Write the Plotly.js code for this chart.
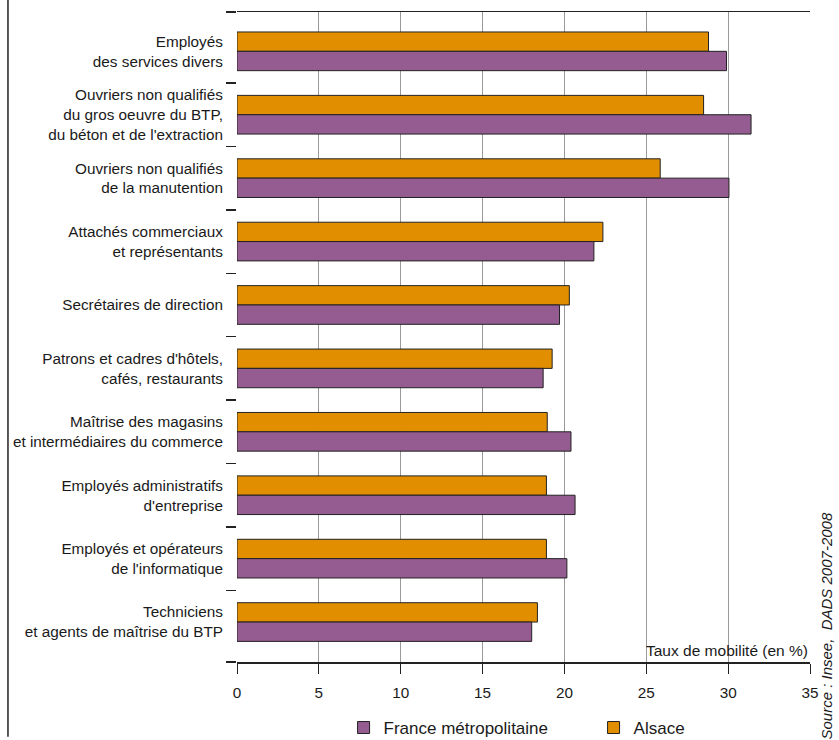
<!DOCTYPE html>
<html>
<head>
<meta charset="utf-8">
<script src="https://cdn.plot.ly/plotly-3.0.1.min.js"></script>
<style>html,body{margin:0;padding:0;background:#fff;}#chart{width:839px;height:740px;}</style>
</head>
<body>
<div id="chart"></div>
<script>
const categories = [
  "Employés<br>des services divers",
  "Ouvriers non qualifiés<br>du gros oeuvre du BTP,<br>du béton et de l'extraction",
  "Ouvriers non qualifiés<br>de la manutention",
  "Attachés commerciaux<br>et représentants",
  "Secrétaires de direction",
  "Patrons et cadres d'hôtels,<br>cafés, restaurants",
  "Maîtrise des magasins<br>et intermédiaires du commerce",
  "Employés administratifs<br>d'entreprise",
  "Employés et opérateurs<br>de l'informatique",
  "Techniciens<br>et agents de maîtrise du BTP"
];
const alsace = [28.8, 28.5, 25.85, 22.35, 20.3, 19.25, 18.95, 18.9, 18.9, 18.35];
const france = [29.9, 31.4, 30.05, 21.8, 19.7, 18.7, 20.4, 20.65, 20.15, 18.0];
const xTicks = [0, 5, 10, 15, 20, 25, 30, 35];
const boundaries = [-0.619, 0.5, 1.5, 2.5, 3.5, 4.5, 5.5, 6.5, 7.5, 8.5, 9.629];

const FONT = '"Liberation Sans", Arial, Helvetica, sans-serif';
const yRange = [9.63, -0.62];

const traces = [
  {type: 'bar', orientation: 'h', name: 'Alsace', x: alsace, y: categories,
   marker: {color: '#E18F00', line: {color: '#222', width: 1}}, hoverinfo: 'x'},
  {type: 'bar', orientation: 'h', name: 'France métropolitaine', x: france, y: categories,
   marker: {color: '#945C90', line: {color: '#222', width: 1}}, hoverinfo: 'x'},
  {type: 'scatter', mode: 'none', x: [0, 0], y: [yRange[1], yRange[0]], yaxis: 'y2',
   showlegend: false, hoverinfo: 'skip'}
];

const layout = {
  width: 839, height: 740,
  margin: {l: 237, r: 29, t: 12, b: 78, autoexpand: false},
  paper_bgcolor: '#fff', plot_bgcolor: '#fff',
  font: {family: FONT, size: 15.3, color: '#1a1a1a'},
  barmode: 'group', bargap: 0.39, bargroupgap: 0,
  showlegend: true,
  legend: {orientation: 'h', traceorder: 'reversed', x: 0.186, xanchor: 'left', y: -0.1015, yanchor: 'middle',
           font: {family: FONT, size: 17}, entrywidth: 205, bgcolor: 'rgba(0,0,0,0)'},
  xaxis: {range: [0, 35], tickvals: xTicks, ticks: 'outside', ticklen: 10, tickcolor: '#222',
          showline: true, linecolor: '#222', linewidth: 1.5, mirror: true,
          showgrid: true, gridcolor: '#9a9a9a', gridwidth: 1, zeroline: false,
          tickfont: {family: FONT, size: 15.3}, ticklabelstandoff: 6, fixedrange: true},
  yaxis: {type: 'category', range: yRange, ticks: 'outside', ticklen: 10, tickcolor: 'rgba(0,0,0,0)',
          showgrid: false, zeroline: false, showline: false, tickfont: {family: FONT, size: 15.3}, fixedrange: true},
  yaxis2: {overlaying: 'y', side: 'left', range: yRange, tickmode: 'array', tickvals: boundaries,
           ticks: 'outside', ticklen: 10, tickcolor: '#222', tickwidth: 1.5, showticklabels: false,
           showgrid: false, zeroline: false, showline: false, fixedrange: true},
  annotations: [
    {xref: 'paper', yref: 'paper', x: 1, y: 0, xanchor: 'right', yanchor: 'bottom', yshift: 1,
     text: 'Taux de mobilité (en %)', showarrow: false, font: {family: FONT, size: 15.5}},
    {xref: 'paper', yref: 'paper', x: 1.028, y: 0.0546, xanchor: 'center', yanchor: 'middle', textangle: -90,
     text: '<i>Source : Insee,  DADS 2007-2008</i>', showarrow: false, font: {family: FONT, size: 15}}
  ],
  shapes: [
    {type: 'line', xref: 'paper', yref: 'paper', x0: -0.3997, x1: -0.3997, y0: -0.115, y1: 1.02,
     line: {color: '#222', width: 1.5}}
  ]
};

Plotly.newPlot('chart', traces, layout, {displayModeBar: false, staticPlot: true});
</script>
</body>
</html>
